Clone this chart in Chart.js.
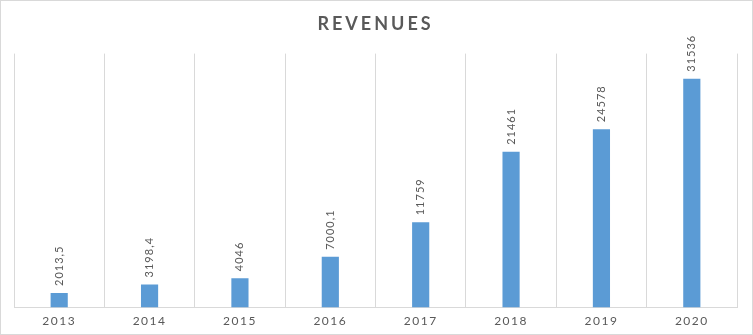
<!DOCTYPE html>
<html>
<head>
<meta charset="utf-8">
<script src="https://cdn.jsdelivr.net/npm/chart.js@4"></script>
<style>
  html, body { margin: 0; padding: 0; background: #fff; }
  #wrap { width: 753px; height: 335px; box-sizing: border-box; border: 1px solid #d9d9d9; }
  canvas { display: block; }
</style>
</head>
<body>
<div id="wrap"><canvas id="c" width="751" height="333"></canvas></div>
<script>
const chartTitle = 'REVENUES';
const years = ['2013', '2014', '2015', '2016', '2017', '2018', '2019', '2020'];
const revenues = [2013.5, 3198.4, 4046, 7000.1, 11759, 21461, 24578, 31536];
const yMax = 35000;

const textColor = '#595959';
const gridColor = '#d9d9d9';
const barColor = '#5B9BD5';

const dataLabels = {
  id: 'dataLabels',
  afterDatasetsDraw(chart) {
    const ctx = chart.ctx;
    const meta = chart.getDatasetMeta(0);
    const ds = chart.data.datasets[0];
    ctx.save();
    ctx.letterSpacing = '1px';
    ctx.font = '11px Lato, "Liberation Sans", sans-serif';
    ctx.fillStyle = textColor;
    ctx.textAlign = 'left';
    ctx.textBaseline = 'middle';
    meta.data.forEach((bar, i) => {
      const txt = String(ds.data[i]).replace('.', ',');
      ctx.save();
      ctx.translate(bar.x, bar.y - 7);
      ctx.rotate(-Math.PI / 2);
      ctx.fillText(txt, 0, 0);
      ctx.restore();
    });
    ctx.restore();
  }
};

const spacing = {
  id: 'spacing',
  beforeDraw(chart) { chart.ctx.letterSpacing = '1.5px'; },
  afterDraw(chart) { chart.ctx.letterSpacing = '0px'; }
};

const chart = new Chart(document.getElementById('c'), {
  type: 'bar',
  data: {
    labels: years,
    datasets: [{
      data: revenues,
      backgroundColor: barColor,
      borderWidth: 0,
      barPercentage: 0.19,
      categoryPercentage: 1
    }]
  },
  options: {
    responsive: false,
    animation: false,
    events: [],
    layout: { padding: { left: 13, right: 15, top: 0, bottom: 0 } },
    plugins: {
      legend: { display: false },
      tooltip: { enabled: false },
      title: {
        display: true,
        text: chartTitle,
        color: textColor,
        font: { family: 'Lato, "Liberation Sans", sans-serif', size: 18, weight: 'bold' },
        padding: { top: 12, bottom: 19 }
      }
    },
    scales: {
      x: {
        offset: true,
        grid: { display: true, offset: true, color: gridColor, drawTicks: false, lineWidth: 1 },
        border: { display: true, color: gridColor },
        ticks: {
          color: textColor,
          padding: 6,
          font: { family: 'Lato, "Liberation Sans", sans-serif', size: 12 }
        }
      },
      y: {
        display: false,
        min: 0,
        max: yMax
      }
    }
  },
  plugins: [spacing, dataLabels]
});

const tb = chart.titleBlock;
if (tb) {
  const orig = tb.draw;
  tb.draw = function () {
    const ctx = this.ctx;
    ctx.save();
    ctx.letterSpacing = '3px';
    orig.apply(this, arguments);
    ctx.restore();
  };
  chart.draw();
}
</script>
</body>
</html>
